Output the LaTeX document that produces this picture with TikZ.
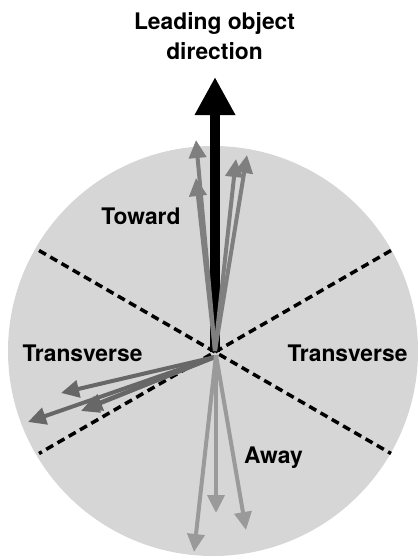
\documentclass[tikz,border=0pt]{standalone}
\usepackage{fontspec}
\setmainfont{TeX Gyre Heros}
\usetikzlibrary{arrows.meta}
\definecolor{disc}{HTML}{D6D6D6}
\definecolor{towardc}{HTML}{7F7F7F}
\definecolor{transc}{HTML}{676767}
\definecolor{awayc}{HTML}{9A9A9A}
\tikzset{
  lbl/.style={font=\bfseries\fontsize{22.8}{30}\selectfont, inner sep=0pt, anchor=base},
  divider/.style={line width=3.5pt, dash pattern=on 8pt off 5pt},
  ray/.style={line width=4pt, -{Triangle[length=18pt,width=17pt]}},
  lead/.style={line width=10pt, -{Triangle[length=38pt,width=38pt]}},
}
\begin{document}
\begin{tikzpicture}[x=1pt,y=-1pt]
\useasboundingbox (0,0) rectangle (418,557);
\fill[disc] (213,351) circle[radius=205];
% centre
\coordinate (O) at (215,352);
% dividers
\coordinate (d1) at (39,250.5);
\coordinate (d2) at (391,453.5);
\coordinate (d3) at (391,250.5);
\coordinate (d4) at (39,453.5);
\draw[divider] (d1) -- (d2);
\draw[divider] (d3) -- (d4);
% leading object
\coordinate (L) at (215,77);
\draw[lead] (O) -- (L);
% toward
\coordinate (Ot) at (215,351);
\coordinate (t1) at (196,140);
\coordinate (t2) at (196,178);
\coordinate (t3) at (236,159);
\coordinate (t4) at (247,155);
\foreach \t in {t1,t2,t3,t4} \draw[ray, towardc] (Ot) -- (\t);
% transverse
\coordinate (Os) at (215,357);
\coordinate (s1) at (61,393);
\coordinate (s2) at (28,422);
\coordinate (s3) at (81,411);
\coordinate (s4) at (84,409);
\foreach \s in {s1,s2,s3,s4} \draw[ray, transc] (Os) -- (\s);
% away
\coordinate (Oa) at (216,355);
\coordinate (a1) at (194,552);
\coordinate (a2) at (216,513);
\coordinate (a3) at (246,530);
\foreach \a in {a1,a2,a3} \draw[ray, awayc] (Oa) -- (\a);
% labels
\node[lbl, anchor=north, align=center] (title) at (214.5,12.5) {Leading object\\direction};
\node[lbl] (toward) at (141,224) {Toward};
\node[lbl] (transL) at (82.5,361) {Transverse};
\node[lbl] (transR) at (347.5,361) {Transverse};
\node[lbl] (away) at (273.5,463) {Away};
\end{tikzpicture}
\end{document}
